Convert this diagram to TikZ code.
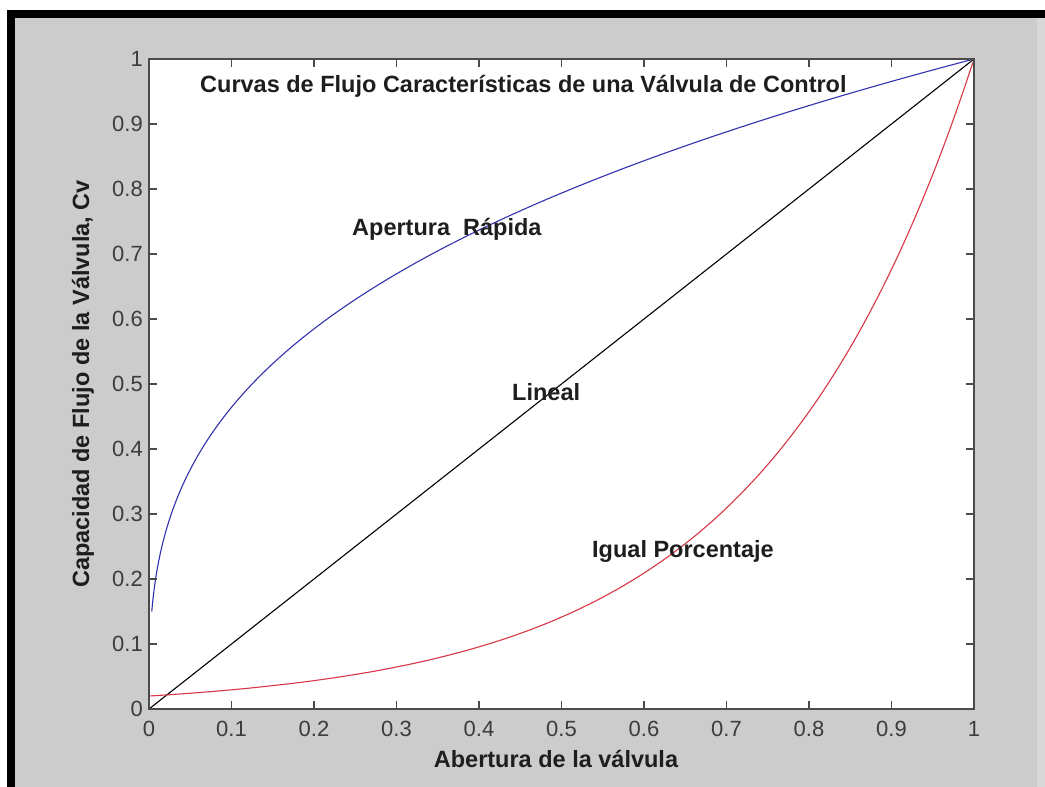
\documentclass[tikz,border=0pt]{standalone}
\usepackage{fontspec}
\setmainfont{Liberation Sans}
\begin{document}
\begin{tikzpicture}[x=1pt,y=-1pt]
\definecolor{bggray}{RGB}{204,204,204}
\definecolor{edgegray}{RGB}{216,216,216}
\definecolor{axgray}{RGB}{75,75,75}
\definecolor{tickgray}{RGB}{60,60,60}
\definecolor{txtdark}{RGB}{30,30,30}
\definecolor{cblue}{RGB}{50,50,175}
\definecolor{cred}{RGB}{215,55,70}
\tikzset{
  axisbox/.style={draw=axgray, line width=2pt},
  tickline/.style={draw=axgray, line width=1.4pt},
  ticklabel/.style={inner sep=0pt, text=tickgray, font=\fontsize{22}{25}\selectfont},
  axlab/.style={inner sep=0pt, text=txtdark, font=\bfseries\fontsize{23.5}{26}\selectfont},
  inlab/.style={inner sep=0pt, text=txtdark, font=\bfseries\fontsize{23.5}{26}\selectfont},
  curveK/.style={draw=black, line width=1.1pt},
  curveB/.style={draw=cblue, line width=1.1pt},
  curveR/.style={draw=cred, line width=1.1pt}
}
\useasboundingbox (0,0) rectangle (1045,787);
% frame and background
\fill[white] (0,0) rectangle (1045,787);
\fill[bggray] (15,18) rectangle (1045,787);
\fill[edgegray] (1037,18) rectangle (1045,787);
\fill[black] (7,10) rectangle (1045,18);
\fill[black] (7,10) rectangle (15,787);
% plot area
\fill[white] (149,59) rectangle (974,709);
% curves
\begin{scope}[shift={(149,709)}, x=825pt, y=650pt]
  \draw[curveK] (0,0) -- (1,1);
  \draw[curveR] plot[domain=0:1, samples=120, smooth] (\x,{exp((\x-1)*3.912)});
  \draw[curveB] plot[domain=0.15:1, samples=160, smooth] ({\x*\x*\x},\x);
\end{scope}
% axes box and ticks
\draw[axisbox] (149,59) rectangle (974,709);
\foreach \i in {1,...,9} {
  \draw[tickline] ({149+82.5*\i},709) -- ++(0,-8);
  \draw[tickline] ({149+82.5*\i},59) -- ++(0,8);
  \draw[tickline] (149,{709-65*\i}) -- ++(8,0);
  \draw[tickline] (974,{709-65*\i}) -- ++(-8,0);
}
% tick labels
\foreach \i/\l in {0/0,1/0.1,2/0.2,3/0.3,4/0.4,5/0.5,6/0.6,7/0.7,8/0.8,9/0.9,10/1} {
  \node[ticklabel, anchor=north] (xt\i) at ({149+82.5*\i},721) {\l};
  \node[ticklabel, anchor=east] (yt\i) at (143,{709-65*\i}) {\l};
}
% labels
\node[inlab, anchor=base west] (title) at (200,92) {Curvas de Flujo Características de una Válvula de Control};
\node[inlab, anchor=base west] (apr) at (352,235) {Apertura\ \ Rápida};
\node[inlab, anchor=base west] (lin) at (512,400) {Lineal};
\node[inlab, anchor=base west] (igu) at (592,557) {Igual Porcentaje};
\node[axlab, anchor=base] (xlab) at (556,767) {Abertura de la válvula};
\node[axlab, rotate=90, anchor=base] (ylab) at (89,384) {Capacidad de Flujo de la Válvula, Cv};
\end{tikzpicture}
\end{document}
